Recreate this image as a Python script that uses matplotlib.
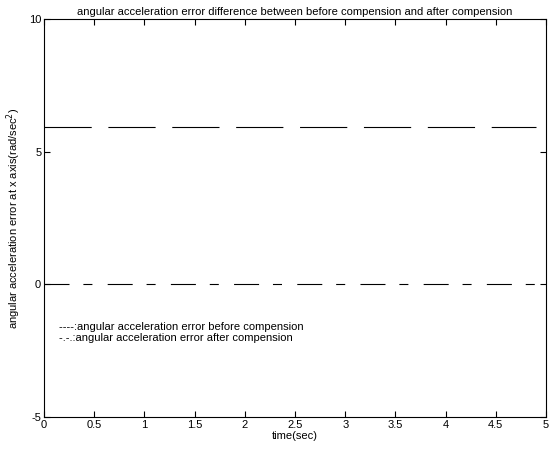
import matplotlib
matplotlib.use("Agg")
import matplotlib.pyplot as plt
import numpy as np

plt.rcParams['font.family'] = ['Liberation Sans', 'DejaVu Sans']
plt.rcParams['lines.scale_dashes'] = False
plt.rcParams['axes.unicode_minus'] = False

# data
t_before = [0.0, 4.9]
err_before = [5.92, 5.92]
t_after = [0.0, 5.0]
err_after = [0.0, 0.0]
xticks = [0, 0.5, 1, 1.5, 2, 2.5, 3, 3.5, 4, 4.5, 5]
xticklabels = ['0', '0.5', '1', '1.5', '2', '2.5', '3', '3.5', '4', '4.5', '5']
yticks = [-5, 0, 5, 10]

fig = plt.figure(figsize=(5.6, 4.5), dpi=100)
ax = fig.add_axes([44/560, 1-417/450, (546-44)/560, (417-19)/450])

ax.plot(t_before, err_before, color='black', lw=0.8, dashes=(34, 12))
ax.plot(t_after, err_after, color='black', lw=0.8, dashes=(18, 10, 6.5, 11))

ax.set_xlim(0, 5)
ax.set_ylim(-5, 10)
ax.set_xticks(xticks)
ax.set_xticklabels(xticklabels)
ax.set_yticks(yticks)
ax.tick_params(direction='in', top=True, right=True, length=4, width=0.8,
               labelsize=8, pad=2)
for s in ax.spines.values():
    s.set_linewidth(0.8)

ax.set_title('angular acceleration error difference between before compension and after compension',
             fontsize=8, pad=3)
ax.set_xlabel('time(sec)', fontsize=8, labelpad=1)
ax.set_ylabel('angular acceleration error at x axis(rad/sec$^2$)', fontsize=8, labelpad=4)

ax.text(0.15, -1.62, '----:angular acceleration error before compension', fontsize=8, va='center')
ax.text(0.15, -2.03, '-.-.:angular acceleration error after compension', fontsize=8, va='center')

fig.savefig('out.png', dpi=100)
